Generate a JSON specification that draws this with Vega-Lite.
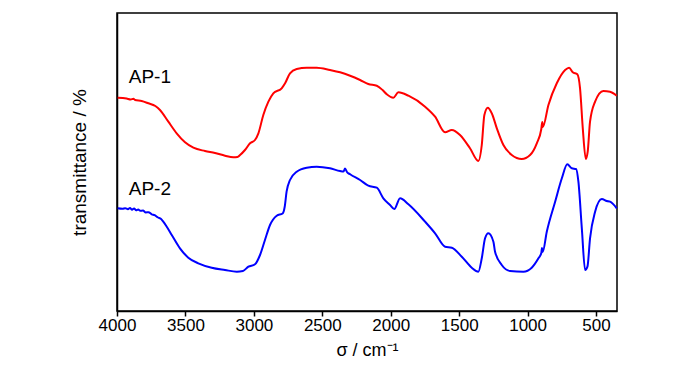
{
  "$schema": "https://vega.github.io/schema/vega-lite/v6.json",
  "autosize": {"type": "none"},
  "width": 500,
  "height": 298,
  "padding": {"left": 117, "top": 13, "right": 83, "bottom": 63},
  "background": "white",
  "config": {
    "view": {"stroke": "black", "strokeWidth": 1.5},
    "font": "Liberation Sans"
  },
  "datasets": {
    "spectra": [
      {"w": 3995, "v": 213.3, "s": "AP-1"},
      {"w": 3930, "v": 212.5, "s": "AP-1"},
      {"w": 3900, "v": 211.5, "s": "AP-1"},
      {"w": 3880, "v": 212.3, "s": "AP-1"},
      {"w": 3868, "v": 211, "s": "AP-1"},
      {"w": 3820, "v": 210, "s": "AP-1"},
      {"w": 3771, "v": 207.7, "s": "AP-1"},
      {"w": 3720, "v": 205, "s": "AP-1"},
      {"w": 3686, "v": 201, "s": "AP-1"},
      {"w": 3625, "v": 189.3, "s": "AP-1"},
      {"w": 3564, "v": 177.7, "s": "AP-1"},
      {"w": 3503, "v": 168.7, "s": "AP-1"},
      {"w": 3442, "v": 163.3, "s": "AP-1"},
      {"w": 3357, "v": 160, "s": "AP-1"},
      {"w": 3284, "v": 158, "s": "AP-1"},
      {"w": 3211, "v": 155.3, "s": "AP-1"},
      {"w": 3150, "v": 153.7, "s": "AP-1"},
      {"w": 3120, "v": 154, "s": "AP-1"},
      {"w": 3101, "v": 156, "s": "AP-1"},
      {"w": 3065, "v": 161, "s": "AP-1"},
      {"w": 3028, "v": 167.7, "s": "AP-1"},
      {"w": 2992, "v": 171, "s": "AP-1"},
      {"w": 2967, "v": 177.7, "s": "AP-1"},
      {"w": 2931, "v": 196, "s": "AP-1"},
      {"w": 2894, "v": 209.3, "s": "AP-1"},
      {"w": 2858, "v": 217.7, "s": "AP-1"},
      {"w": 2797, "v": 222.7, "s": "AP-1"},
      {"w": 2772, "v": 227.7, "s": "AP-1"},
      {"w": 2736, "v": 237.7, "s": "AP-1"},
      {"w": 2687, "v": 242, "s": "AP-1"},
      {"w": 2614, "v": 243.3, "s": "AP-1"},
      {"w": 2541, "v": 243.3, "s": "AP-1"},
      {"w": 2444, "v": 241, "s": "AP-1"},
      {"w": 2370, "v": 238.7, "s": "AP-1"},
      {"w": 2297, "v": 235.3, "s": "AP-1"},
      {"w": 2224, "v": 231, "s": "AP-1"},
      {"w": 2164, "v": 227, "s": "AP-1"},
      {"w": 2102, "v": 225.3, "s": "AP-1"},
      {"w": 2060, "v": 221, "s": "AP-1"},
      {"w": 2029, "v": 216.7, "s": "AP-1"},
      {"w": 1981, "v": 213.3, "s": "AP-1"},
      {"w": 1944, "v": 218.7, "s": "AP-1"},
      {"w": 1871, "v": 215.3, "s": "AP-1"},
      {"w": 1749, "v": 204.3, "s": "AP-1"},
      {"w": 1676, "v": 194.3, "s": "AP-1"},
      {"w": 1603, "v": 178.7, "s": "AP-1"},
      {"w": 1554, "v": 181, "s": "AP-1"},
      {"w": 1494, "v": 176, "s": "AP-1"},
      {"w": 1421, "v": 162.7, "s": "AP-1"},
      {"w": 1360, "v": 150, "s": "AP-1"},
      {"w": 1335, "v": 166, "s": "AP-1"},
      {"w": 1316, "v": 196, "s": "AP-1"},
      {"w": 1291, "v": 203.3, "s": "AP-1"},
      {"w": 1262, "v": 197.7, "s": "AP-1"},
      {"w": 1225, "v": 182.7, "s": "AP-1"},
      {"w": 1177, "v": 166, "s": "AP-1"},
      {"w": 1116, "v": 156, "s": "AP-1"},
      {"w": 1043, "v": 152, "s": "AP-1"},
      {"w": 982, "v": 156, "s": "AP-1"},
      {"w": 933, "v": 167.7, "s": "AP-1"},
      {"w": 900, "v": 182, "s": "AP-1"},
      {"w": 893, "v": 189, "s": "AP-1"},
      {"w": 889, "v": 184, "s": "AP-1"},
      {"w": 848, "v": 206, "s": "AP-1"},
      {"w": 787, "v": 227.7, "s": "AP-1"},
      {"w": 726, "v": 241, "s": "AP-1"},
      {"w": 697, "v": 243.3, "s": "AP-1"},
      {"w": 670, "v": 238.7, "s": "AP-1"},
      {"w": 637, "v": 236.7, "s": "AP-1"},
      {"w": 617, "v": 222.7, "s": "AP-1"},
      {"w": 597, "v": 182.7, "s": "AP-1"},
      {"w": 575, "v": 152, "s": "AP-1"},
      {"w": 561, "v": 159.3, "s": "AP-1"},
      {"w": 544, "v": 189.3, "s": "AP-1"},
      {"w": 507, "v": 209.3, "s": "AP-1"},
      {"w": 447, "v": 220, "s": "AP-1"},
      {"w": 398, "v": 219.3, "s": "AP-1"},
      {"w": 349, "v": 215.3, "s": "AP-1"},

      {"w": 3995, "v": 102.7, "s": "AP-2"},
      {"w": 3960, "v": 102.2, "s": "AP-2"},
      {"w": 3940, "v": 102.8, "s": "AP-2"},
      {"w": 3920, "v": 101.8, "s": "AP-2"},
      {"w": 3905, "v": 103, "s": "AP-2"},
      {"w": 3890, "v": 101.3, "s": "AP-2"},
      {"w": 3875, "v": 102.6, "s": "AP-2"},
      {"w": 3860, "v": 100.8, "s": "AP-2"},
      {"w": 3845, "v": 101.6, "s": "AP-2"},
      {"w": 3830, "v": 100.2, "s": "AP-2"},
      {"w": 3810, "v": 100.4, "s": "AP-2"},
      {"w": 3790, "v": 98.6, "s": "AP-2"},
      {"w": 3770, "v": 98.8, "s": "AP-2"},
      {"w": 3746, "v": 96.7, "s": "AP-2"},
      {"w": 3725, "v": 95.8, "s": "AP-2"},
      {"w": 3700, "v": 93.5, "s": "AP-2"},
      {"w": 3680, "v": 92.2, "s": "AP-2"},
      {"w": 3662, "v": 89.3, "s": "AP-2"},
      {"w": 3640, "v": 85, "s": "AP-2"},
      {"w": 3600, "v": 76, "s": "AP-2"},
      {"w": 3540, "v": 62.7, "s": "AP-2"},
      {"w": 3479, "v": 53.3, "s": "AP-2"},
      {"w": 3406, "v": 47.7, "s": "AP-2"},
      {"w": 3308, "v": 43.3, "s": "AP-2"},
      {"w": 3211, "v": 41, "s": "AP-2"},
      {"w": 3125, "v": 39.3, "s": "AP-2"},
      {"w": 3080, "v": 40, "s": "AP-2"},
      {"w": 3040, "v": 44.3, "s": "AP-2"},
      {"w": 2992, "v": 46.7, "s": "AP-2"},
      {"w": 2955, "v": 56, "s": "AP-2"},
      {"w": 2919, "v": 71, "s": "AP-2"},
      {"w": 2882, "v": 86, "s": "AP-2"},
      {"w": 2833, "v": 95.3, "s": "AP-2"},
      {"w": 2790, "v": 97.5, "s": "AP-2"},
      {"w": 2775, "v": 104, "s": "AP-2"},
      {"w": 2761, "v": 119.3, "s": "AP-2"},
      {"w": 2736, "v": 131, "s": "AP-2"},
      {"w": 2687, "v": 139.3, "s": "AP-2"},
      {"w": 2614, "v": 143.3, "s": "AP-2"},
      {"w": 2541, "v": 144.3, "s": "AP-2"},
      {"w": 2444, "v": 142.7, "s": "AP-2"},
      {"w": 2370, "v": 140, "s": "AP-2"},
      {"w": 2345, "v": 139.5, "s": "AP-2"},
      {"w": 2334, "v": 142.5, "s": "AP-2"},
      {"w": 2320, "v": 139, "s": "AP-2"},
      {"w": 2297, "v": 136.7, "s": "AP-2"},
      {"w": 2224, "v": 131, "s": "AP-2"},
      {"w": 2164, "v": 125.3, "s": "AP-2"},
      {"w": 2102, "v": 123.3, "s": "AP-2"},
      {"w": 2054, "v": 112.7, "s": "AP-2"},
      {"w": 2005, "v": 106, "s": "AP-2"},
      {"w": 1974, "v": 102, "s": "AP-2"},
      {"w": 1932, "v": 112.7, "s": "AP-2"},
      {"w": 1871, "v": 106.7, "s": "AP-2"},
      {"w": 1749, "v": 89.3, "s": "AP-2"},
      {"w": 1676, "v": 77.7, "s": "AP-2"},
      {"w": 1603, "v": 64.3, "s": "AP-2"},
      {"w": 1554, "v": 63.3, "s": "AP-2"},
      {"w": 1481, "v": 54.3, "s": "AP-2"},
      {"w": 1408, "v": 43.3, "s": "AP-2"},
      {"w": 1360, "v": 39.3, "s": "AP-2"},
      {"w": 1335, "v": 52.7, "s": "AP-2"},
      {"w": 1311, "v": 72.7, "s": "AP-2"},
      {"w": 1287, "v": 77.7, "s": "AP-2"},
      {"w": 1250, "v": 69.3, "s": "AP-2"},
      {"w": 1238, "v": 59.3, "s": "AP-2"},
      {"w": 1189, "v": 46, "s": "AP-2"},
      {"w": 1128, "v": 40, "s": "AP-2"},
      {"w": 1031, "v": 39.3, "s": "AP-2"},
      {"w": 970, "v": 43.3, "s": "AP-2"},
      {"w": 921, "v": 52.7, "s": "AP-2"},
      {"w": 900, "v": 58, "s": "AP-2"},
      {"w": 895, "v": 63, "s": "AP-2"},
      {"w": 890, "v": 59, "s": "AP-2"},
      {"w": 860, "v": 79.3, "s": "AP-2"},
      {"w": 799, "v": 109.3, "s": "AP-2"},
      {"w": 750, "v": 132.7, "s": "AP-2"},
      {"w": 710, "v": 146.7, "s": "AP-2"},
      {"w": 677, "v": 142.7, "s": "AP-2"},
      {"w": 646, "v": 142, "s": "AP-2"},
      {"w": 629, "v": 129.3, "s": "AP-2"},
      {"w": 604, "v": 82.7, "s": "AP-2"},
      {"w": 580, "v": 41, "s": "AP-2"},
      {"w": 563, "v": 44.3, "s": "AP-2"},
      {"w": 544, "v": 72.7, "s": "AP-2"},
      {"w": 507, "v": 99.3, "s": "AP-2"},
      {"w": 458, "v": 112, "s": "AP-2"},
      {"w": 422, "v": 110, "s": "AP-2"},
      {"w": 398, "v": 109.3, "s": "AP-2"},
      {"w": 349, "v": 102.7, "s": "AP-2"}
    ],
    "labels": [
      {"w": 3760, "v": 234, "s": "AP-1"},
      {"w": 3760, "v": 122, "s": "AP-2"}
    ]
  },
  "layer": [
    {
      "data": {"name": "spectra"},
      "mark": {"type": "line", "strokeWidth": 2, "interpolate": "monotone"},
      "encoding": {
        "x": {
          "field": "w",
          "type": "quantitative",
          "scale": {"domain": [347, 4000], "reverse": true, "nice": false, "zero": false},
          "axis": {
            "title": "σ / cm⁻¹",
            "titleFont": "Liberation Sans",
            "titleFontSize": 18,
            "titleFontWeight": "normal",
            "titleColor": "black",
            "titlePadding": 8,
            "values": [500, 750, 1000, 1250, 1500, 1750, 2000, 2250, 2500, 2750, 3000, 3250, 3500, 3750, 4000],
            "labelExpr": "datum.value % 500 === 0 ? datum.label : ''",
            "format": "d",
            "labelFont": "Liberation Sans",
            "labelFontSize": 17,
            "labelColor": "black",
            "labelPadding": 1,
            "labelFlush": false,
            "labelOverlap": false,
            "tickColor": "black",
            "tickWidth": 1.5,
            "tickSize": {"condition": {"test": "datum.value % 500 === 0", "value": 5}, "value": 3},
            "domainColor": "black",
            "domainWidth": 1.5,
            "grid": false
          }
        },
        "y": {
          "field": "v",
          "type": "quantitative",
          "scale": {"domain": [0, 298], "nice": false, "zero": false},
          "axis": {
            "title": "transmittance / %",
            "titleFont": "Liberation Sans",
            "titleFontSize": 19,
            "titleFontWeight": "normal",
            "titleColor": "black",
            "titlePadding": 28,
            "labels": false,
            "ticks": false,
            "domainColor": "black",
            "domainWidth": 1.5,
            "grid": false
          }
        },
        "color": {
          "field": "s",
          "type": "nominal",
          "scale": {"domain": ["AP-1", "AP-2"], "range": ["#ff0000", "#0000ff"]},
          "legend": null
        }
      }
    },
    {
      "data": {"name": "labels"},
      "mark": {"type": "text", "font": "Liberation Sans", "fontSize": 19, "align": "center", "baseline": "middle", "color": "black"},
      "encoding": {
        "x": {"field": "w", "type": "quantitative"},
        "y": {"field": "v", "type": "quantitative"},
        "text": {"field": "s", "type": "nominal"}
      }
    }
  ]
}
